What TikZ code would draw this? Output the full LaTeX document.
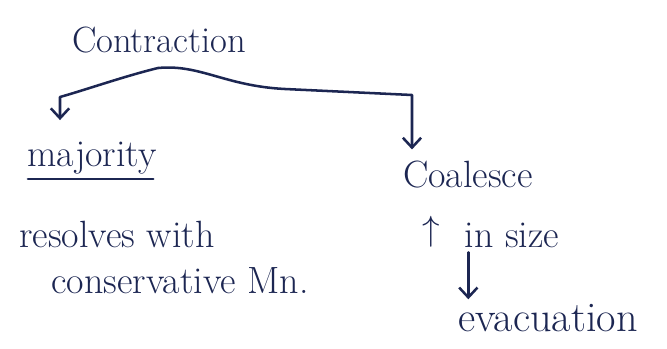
\documentclass[tikz,border=0pt]{standalone}
\usepackage{color}
\usetikzlibrary{arrows.meta}
\definecolor{ink}{RGB}{28,38,82}

\begin{document}
\begin{tikzpicture}[x=0.025cm,y=-0.025cm,auto,
    every node/.style={text=ink,font=\fontsize{27}{32}\selectfont},
    pen/.style={draw=ink,line width=1.8pt,line cap=round,line join=round},
    >={Straight Barb[length=7pt,width=13pt]}]
        \useasboundingbox (0,0) rectangle (667,349);

        \node[font=\fontsize{26}{30}\selectfont] (C) at (159, 40) {Contraction};
        \node (M) at (92, 158) {majority};
        \node (R) at (117, 234) {resolves with};
        \node (CM) at (180, 281) {conservative Mn.};
        \node (Co) at (468, 175) {Coalesce};
        \node (U) at (431, 232) {$\uparrow$};
        \node (S) at (512, 235) {in size};
        \node[font=\fontsize{30}{34}\selectfont] (E) at (548, 318) {evacuation};

        \coordinate (fork) at (158, 68);
        \coordinate (l) at (60, 97);
        \coordinate (r) at (412, 95);

        \draw[pen,->,shorten >=12pt] (fork) .. controls (125, 76) and (85, 90) .. (l) -- (l |- M.north);
        \draw[pen,->,shorten >=5pt] (fork) .. controls (200, 64) and (225, 86) .. (285, 89) -- (r) -- (r |- Co.north);
        \draw[pen] ([xshift=4pt]M.south west) -- ([xshift=-6pt]M.south east);
        \draw[pen,->] ([xshift=6pt]S.south west) -- ([xshift=6pt]S.south west |- E.north);
      \end{tikzpicture}
\end{document}
